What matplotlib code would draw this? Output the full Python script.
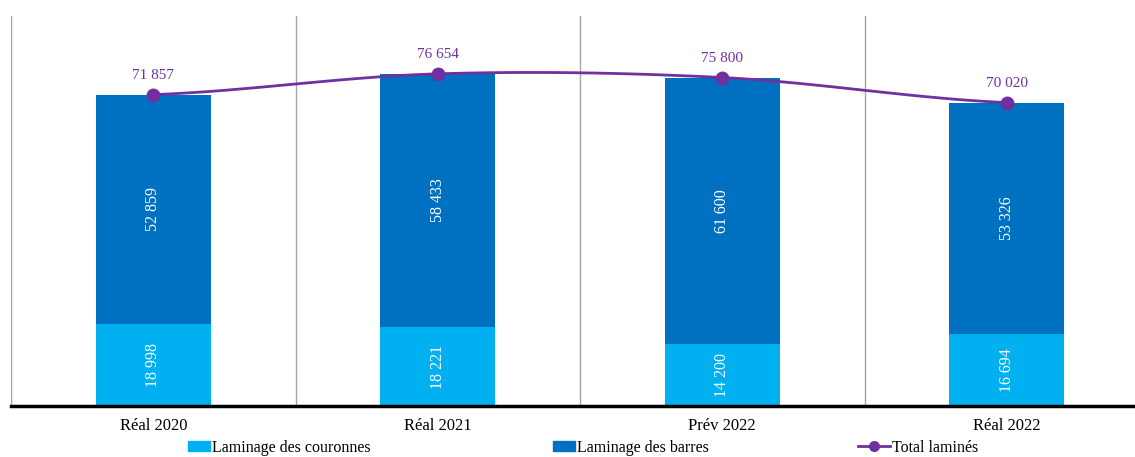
import numpy as np
import matplotlib
matplotlib.use("Agg")
import matplotlib.pyplot as plt
from matplotlib.patches import Patch
from matplotlib.lines import Line2D

categories = ["Réal 2020", "Réal 2021", "Prév 2022", "Réal 2022"]
couronnes = [18998, 18221, 14200, 16694]
barres = [52859, 58433, 61600, 53326]
totals = [71857, 76654, 75800, 70020]
series_names = ["Laminage des couronnes", "Laminage des barres", "Total laminés"]

C_LIGHT = "#00B0F0"
C_DARK = "#0070C0"
C_PURPLE = "#7030A0"

def fmt(v):
    return f"{v:,}".replace(",", " ")

plt.rcParams['font.family'] = ['Liberation Serif', 'DejaVu Serif']

W, H = 1135, 457
fig = plt.figure(figsize=(W / 100, H / 100), dpi=100)
left_px, base_px, top_px = 11, 406, 16
cat_w = 284.5
ax = fig.add_axes([left_px / W, (H - base_px) / H, 4 * cat_w / W, (base_px - top_px) / H])

x = np.arange(len(categories))
bw = 0.405
ax.bar(x, couronnes, width=bw, color=C_LIGHT, zorder=2)
ax.bar(x, barres, width=bw, bottom=couronnes, color=C_DARK, zorder=2)

for i in range(len(x)):
    ax.text(x[i], couronnes[i] / 2, fmt(couronnes[i]), rotation=90, ha='center', va='center',
            color='white', fontsize=11.5, zorder=4)
    ax.text(x[i], couronnes[i] + barres[i] / 2, fmt(barres[i]), rotation=90, ha='center',
            va='center', color='white', fontsize=11.5, zorder=4)

# smooth line (Catmull-Rom through the data points)
xs = x.astype(float)
ys = np.array(totals, dtype=float)
px = np.concatenate([[2 * xs[0] - xs[1]], xs, [2 * xs[-1] - xs[-2]]])
py = np.concatenate([[ys[0]], ys, [ys[-1]]])
cx, cy = [], []
t = np.linspace(0, 1, 40)
for k in range(1, len(px) - 2):
    p0, p1, p2, p3 = (np.array([px[j], py[j]]) for j in (k - 1, k, k + 1, k + 2))
    b1 = p1 + (p2 - p0) / 6
    b2 = p2 - (p3 - p1) / 6
    pts = ((1 - t)[:, None] ** 3 * p1 + 3 * ((1 - t) ** 2 * t)[:, None] * b1
           + 3 * ((1 - t) * t ** 2)[:, None] * b2 + (t ** 3)[:, None] * p2)
    cx.extend(pts[:, 0]); cy.extend(pts[:, 1])
ax.plot(cx, cy, color=C_PURPLE, lw=2, zorder=3)
ax.plot(xs, ys, 'o', color=C_PURPLE, ms=9, zorder=3)
for i in range(len(x)):
    ax.annotate(fmt(totals[i]), (xs[i], ys[i]), xytext=(0, 9), textcoords='offset points',
                ha='center', va='bottom', color=C_PURPLE, fontsize=11)

for b in np.arange(-0.5, len(x), 1.0):
    ax.axvline(b, color='#A6A6A6', lw=1, zorder=1)

ax.set_xlim(-0.5, len(x) - 0.5)
ax.set_ylim(0, 90000)
for s in ['top', 'right', 'left']:
    ax.spines[s].set_visible(False)
ax.spines['bottom'].set_linewidth(2.5)
ax.spines['bottom'].set_color('black')
ax.set_yticks([])
ax.set_xticks(x)
ax.set_xticklabels(categories, fontsize=12)
ax.tick_params(axis='x', length=0, pad=9)

handles = [Patch(color=C_LIGHT), Patch(color=C_DARK),
           Line2D([], [], color=C_PURPLE, lw=2, marker='o', ms=7)]
xpos = [188, 553, 858]
for h, name, xp in zip(handles, series_names, xpos):
    fig.legend([h], [name], loc='center left', bbox_to_anchor=(xp / W, 1 - 447.5 / H),
               frameon=False, fontsize=11.5, borderpad=0, borderaxespad=0,
               handletextpad=0.1, handlelength=1.4 if isinstance(h, Patch) else 2.0,
               handleheight=0.6)

fig.savefig("out.png", dpi=100)
